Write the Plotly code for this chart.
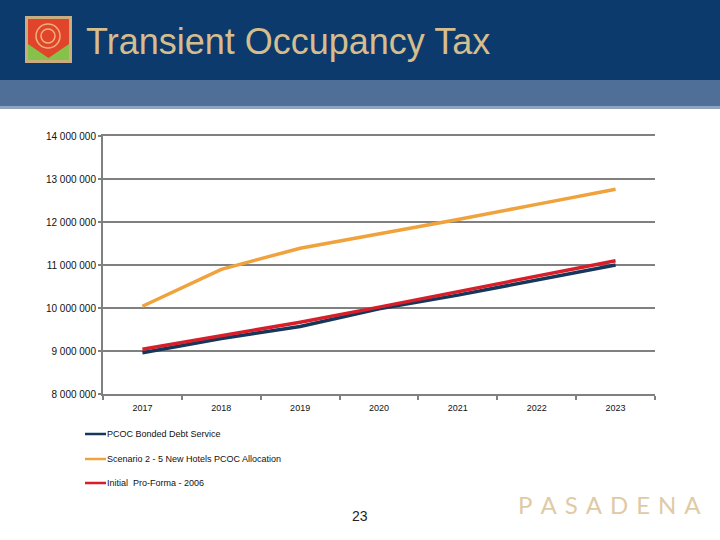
import plotly.graph_objects as go

years = ["2017", "2018", "2019", "2020", "2021", "2022", "2023"]
pcoc_bonded = [8960000, 9290000, 9570000, 9980000, 10300000, 10640000, 11000000]
scenario2 = [10040000, 10900000, 11390000, 11720000, 12060000, 12410000, 12760000]
initial_proforma = [9040000, 9360000, 9670000, 10020000, 10380000, 10730000, 11100000]
series_names = ["PCOC Bonded Debt Service", "Scenario 2 - 5 New Hotels PCOC Allocation", "Initial  Pro-Forma - 2006"]
series_colors = ["#16365c", "#f0a23c", "#d71f2b"]
y_ticks = [8000000, 9000000, 10000000, 11000000, 12000000, 13000000, 14000000]

W, H = 720, 540
L, R, T, B = 103, 655, 136, 394

def px(x):
    return (x - L) / (R - L)

def py(y):
    return (B - y) / (B - T)

fig = go.Figure()
for name, vals, col in zip(series_names, [pcoc_bonded, scenario2, initial_proforma], series_colors):
    fig.add_trace(go.Scatter(x=years, y=vals, mode="lines", name=name,
                             line=dict(color=col, width=3.5), showlegend=False))

shapes = []
# header
shapes.append(dict(type="rect", xref="paper", yref="paper", x0=px(0), x1=px(W), y0=py(0), y1=py(81),
                   fillcolor="#0c3a6c", line=dict(width=0), layer="below"))
shapes.append(dict(type="rect", xref="paper", yref="paper", x0=px(0), x1=px(W), y0=py(80), y1=py(106),
                   fillcolor="#4f6e98", line=dict(width=0), layer="below"))
shapes.append(dict(type="rect", xref="paper", yref="paper", x0=px(0), x1=px(W), y0=py(106), y1=py(109),
                   fillcolor="#8ea3c0", line=dict(width=0), layer="below"))
# logo
shapes.append(dict(type="rect", xref="paper", yref="paper", x0=px(25), x1=px(72), y0=py(16), y1=py(63),
                   fillcolor="#c9ad7e", line=dict(width=0)))
shapes.append(dict(type="rect", xref="paper", yref="paper", x0=px(28), x1=px(69), y0=py(19), y1=py(60),
                   fillcolor="#86c24a", line=dict(width=0)))
shapes.append(dict(type="rect", xref="paper", yref="paper", x0=px(28), x1=px(69), y0=py(19), y1=py(44),
                   fillcolor="#e0452c", line=dict(width=0)))
shapes.append(dict(type="path", xref="paper", yref="paper",
                   path="M %f,%f L %f,%f L %f,%f Z" % (px(28), py(44), px(69), py(44), px(48.5), py(58)),
                   fillcolor="#e0452c", line=dict(width=0)))
shapes.append(dict(type="circle", xref="paper", yref="paper", x0=px(36), x1=px(60), y0=py(24), y1=py(48),
                   fillcolor="rgba(0,0,0,0)", line=dict(color="#f2b07a", width=1.5)))
shapes.append(dict(type="circle", xref="paper", yref="paper", x0=px(41), x1=px(55), y0=py(29), y1=py(43),
                   fillcolor="rgba(0,0,0,0)", line=dict(color="#f2b07a", width=1.5)))

annotations = [
    dict(text="Transient Occupancy Tax", xref="paper", yref="paper", x=px(84), y=py(41),
         xanchor="left", yanchor="middle", showarrow=False,
         font=dict(family="Liberation Sans, Arial", size=36, color="#d6bd8e")),
    dict(text="23", xref="paper", yref="paper", x=px(360), y=py(516),
         xanchor="center", yanchor="middle", showarrow=False,
         font=dict(family="Liberation Sans, Arial", size=14, color="#222222")),
    dict(text="\u2004".join("PASADENA"), xref="paper", yref="paper", x=px(609), y=py(505),
         xanchor="center", yanchor="middle", showarrow=False,
         font=dict(family="Lato", size=24, color="#dfcaa6", weight=400)),
]

# legend drawn manually
leg_y = [434, 459, 483]
for name, col, yy in zip(series_names, series_colors, leg_y):
    shapes.append(dict(type="line", xref="paper", yref="paper", x0=px(85), x1=px(106), y0=py(yy), y1=py(yy),
                       line=dict(color=col, width=2.5)))
    annotations.append(dict(text=name, xref="paper", yref="paper", x=px(105), y=py(yy),
                            xanchor="left", yanchor="middle", showarrow=False,
                            font=dict(family="Liberation Sans, Arial", size=9, color="#111111")))

fig.update_layout(
    width=W, height=H,
    margin=dict(l=L, r=W - R, t=T, b=H - B, pad=0),
    paper_bgcolor="white", plot_bgcolor="white",
    separators=". ",
    shapes=shapes, annotations=annotations,
    xaxis=dict(type="category", tickson="boundaries", ticks="outside", ticklen=4, tickcolor="#808080",
               tickwidth=2, showgrid=False, showline=True, linecolor="#808080", linewidth=2, mirror=True,
               tickfont=dict(family="Liberation Sans, Arial", size=9, color="#111111"),
               ticklabelstandoff=4, range=[-0.5, 6.5], fixedrange=True),
    yaxis=dict(range=[8000000, 14000000], tickvals=y_ticks, tickformat=",d",
               ticks="outside", ticklen=3, tickcolor="#808080", tickwidth=2,
               showgrid=True, gridcolor="#808080", gridwidth=2, zeroline=False,
               showline=True, linecolor="#808080", linewidth=2,
               tickfont=dict(family="Liberation Sans, Arial", size=10, color="#111111")),
)

fig.write_html("out.html", config={"displayModeBar": False},
               post_script="document.body.style.margin='0';document.body.style.padding='0';")
